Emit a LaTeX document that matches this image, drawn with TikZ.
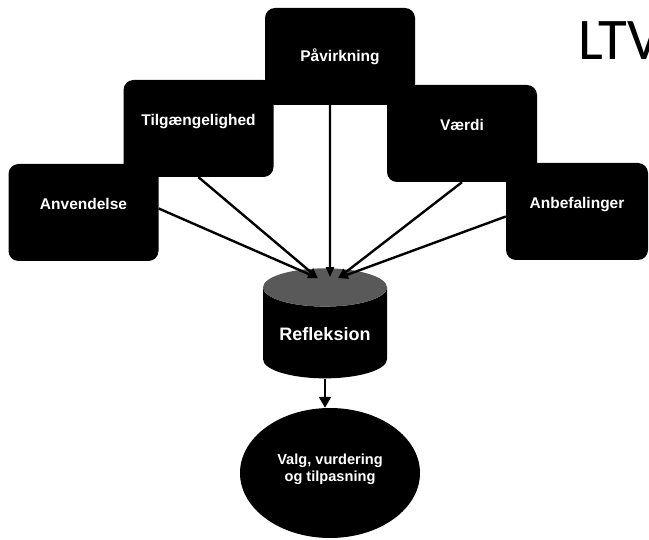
\documentclass[tikz,border=0pt]{standalone}
\usepackage{fontspec}
\setmainfont{Liberation Sans}
\newfontfamily\ltvfont{Carlito}
\usetikzlibrary{shapes.geometric}
\usetikzlibrary{arrows.meta}
\usetikzlibrary{calc}

\begin{document}
\begin{tikzpicture}[x=1pt, y=-1pt,
	box/.style={fill=black, rounded corners=10pt, minimum width=150pt, minimum height=97pt,
		inner sep=0pt, text=white, font=\bfseries\fontsize{15.5}{18}\selectfont,
		text height=11pt, text depth=17pt},
	link/.style={line width=2.4pt, -{Triangle[length=10pt, width=8pt]}}]
	% Fix page size
	\useasboundingbox (0,0) rectangle (649,540);

	% Title in the upper right corner (cut by the page edge)
	\node[anchor=base west, inner sep=0pt, font=\ltvfont\fontsize{59}{59}\selectfont] (ltv) at (578,60) {LTV};

	% Five black boxes, stepped from left to right
	\node[box] (anv) at (83.5,212.5) {Anvendelse};
	\node[box] (tilg) at (198.5,128.5) {Tilgængelighed};
	\node[box, text depth=0pt] (pav) at (340,56.5) {Påvirkning};
	\node[box] (vaer) at (462,133.5) {Værdi};
	\node[box, minimum width=142pt] (anb) at (577,211.5) {Anbefalinger};

	% Cylinder in the middle and ellipse below it
	\node[cylinder, shape border rotate=90, aspect=0.42, minimum width=124pt, minimum height=110pt,
		cylinder uses custom fill, cylinder body fill=black, cylinder end fill=black!65,
		inner sep=0pt, text=white, font=\bfseries\fontsize{18}{20}\selectfont,
		text height=19pt, text depth=4pt] (refl) at (325,333) {Refleksion};
	\node[ellipse, fill=black, minimum width=180pt, minimum height=130pt, inner sep=0pt,
		text=white, align=center, font=\bfseries\fontsize{14.6}{16.5}\selectfont] (valg) at (330,473) {Valg, vurdering\\og tilpasning\\[-6pt]};

	% Points where the arrows meet the top of the cylinder
	\coordinate (hitL) at ($(refl.north)+(-7,10)$);
	\coordinate (hitM) at ($(refl.north)+(5,9)$);
	\coordinate (hitR) at ($(refl.north)+(13,10)$);

	% Arrows into the cylinder
	\draw[link] ([yshift=4pt]anv.east) -- (hitL);
	\draw[link] (tilg.south) -- (hitL);
	\draw[link] ([xshift=-10pt]pav.south) -- (hitM);
	\draw[link] (vaer.south) -- (hitR);
	\draw[link] ([yshift=-5pt]anb.west) -- (hitR);

	% Arrow down to the ellipse
	\draw[line width=2.5pt, -{Triangle[length=11pt, width=12pt]}] (refl.south) -- (refl.south |- valg.north);
\end{tikzpicture}
\end{document}
